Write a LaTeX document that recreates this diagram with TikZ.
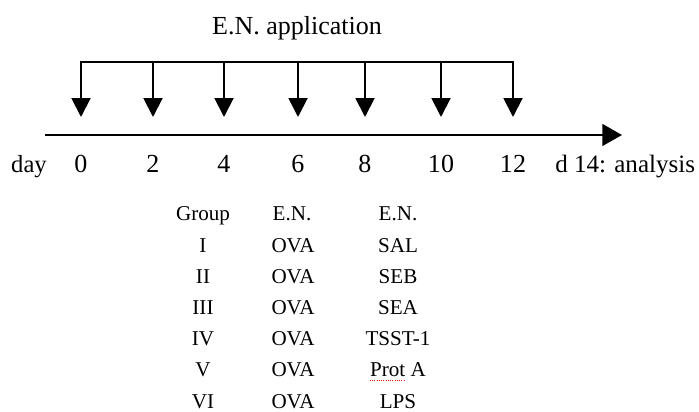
\documentclass[tikz,border=0pt]{standalone}
\usepackage{fontspec}
\setmainfont{Liberation Serif}
\usetikzlibrary{arrows.meta,positioning,calc}

\begin{document}
\begin{tikzpicture}[x=0.025cm,y=-0.025cm,
		lbl/.style={font=\fontsize{18.5}{20}\selectfont,inner sep=0pt,anchor=base},
		cell/.style={font=\fontsize{15}{17}\selectfont,inner sep=0pt,anchor=base},
		appl/.style={line width=1.4pt,-{Triangle[length=13.5pt,width=13.5pt]}}]
	\useasboundingbox (0,0) rectangle (699,412);

	% time axis
	\coordinate (axisstart) at (45,135);
	\coordinate (axisend) at (622,135);
	\draw[line width=1.4pt,-{Triangle[length=14pt,width=15.5pt]}] (axisstart) -- (axisend);
	\node[lbl,font=\fontsize{17.5}{20}\selectfont] (day) at (29,173) {day};

	% application days
	\node[lbl] (appltitle) at (297,35) {E.N. application};
	\foreach \d/\x in {0/81,2/153,4/224,6/298,8/365,10/441,12/513} {
		\coordinate (top\d) at (\x,62);
		\coordinate (tip\d) at (\x,117);
		\draw[appl] (top\d) -- (tip\d);
		\node[lbl] (d\d) at (\x,173) {\d};
	}
	\draw[line width=1.4pt,line cap=rect] (top0) -- (top12);
	\node[lbl,anchor=base west,font=\fontsize{17.8}{20}\selectfont] (analysis) at (555,173) {d 14: analysis};

	% groups
	\node[cell] (grphead) at (203,221) {Group};
	\node[cell] (ovahead) at (292,221) {E.N.};
	\node[cell] (enhead) at (398,221) {E.N.};
	\foreach \g/\s [count=\i] in {I/SAL,II/SEB,III/SEA,IV/TSST-1,V/Prot A,VI/LPS} {
		\node[cell] (grp\i) at (203,221+31.2*\i) {\g};
		\node[cell] (ova\i) at (293,221+31.2*\i) {OVA};
		\node[cell] (en\i) at (398,221+31.2*\i) {\s};
	}
	\draw[red,densely dotted,line width=0.6pt] ($(en5.base west)+(0,3)$) -- ++(35,0);
\end{tikzpicture}
\end{document}
